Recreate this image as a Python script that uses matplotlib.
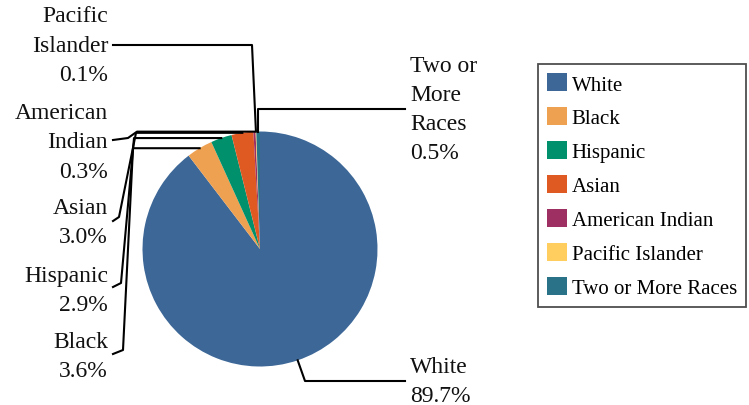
import numpy as np
import matplotlib
matplotlib.use("Agg")
import matplotlib.pyplot as plt
import matplotlib.patches as mpatches

# data
categories = ["White", "Black", "Hispanic", "Asian", "American Indian",
              "Pacific Islander", "Two or More Races"]
label_names = ["White", "Black", "Hispanic", "Asian", "American\nIndian",
               "Pacific\nIslander", "Two or\nMore\nRaces"]
shares = [89.7, 3.6, 2.9, 3.0, 0.3, 0.1, 0.5]
colors = ["#3C6797", "#EFA152", "#00916C", "#DF5A22", "#9E2F62",
          "#FFCE5E", "#2A7287"]

W, H = 749, 406
CX, CY, R = 260, 250, 117.5

# label layout in pixel coords (y downwards): x, y, alignment
text_pos = [(410, 382, "left"), (108, 357, "right"), (108, 291, "right"),
            (108, 223, "right"), (108, 143, "right"), (108, 46, "right"),
            (410, 110, "left")]
# leader elbows in pixels; None -> take from the wedge anchor
leader_pts = [
    [(305, 382), (405, 382)],
    [(133, None), (123, 351), (113, 355)],
    [(134, None), (121, 284), (113, 288)],
    [(136, None), (119, 218), (113, 222)],
    [(137, None), (128, 139), (113, 141)],
    [(252, 46), (113, 46)],
    [(None, 110), (405, 110)],
]

plt.rcParams["font.family"] = ["Liberation Serif", "DejaVu Serif"]

fig = plt.figure(figsize=(W / 100, H / 100), dpi=100)
ax = fig.add_axes([0, 0, 1, 1])

wedges, _ = ax.pie(shares, colors=colors, startangle=90, counterclock=False,
                   center=(CX, H - CY), radius=R,
                   wedgeprops=dict(linewidth=0))
ax.set_xlim(0, W)
ax.set_ylim(0, H)
ax.set_aspect("equal")
ax.axis("off")

for w, name, share, (tx, ty, ha), pts in zip(wedges, label_names, shares,
                                              text_pos, leader_pts):
    mid = np.deg2rad((w.theta1 + w.theta2) / 2)
    ax_x = CX + R * np.cos(mid)
    ax_y = (H - CY) + R * np.sin(mid)
    xs, ys = [ax_x], [ax_y]
    for px, py in pts:
        xs.append(ax_x if px is None else px)
        ys.append(ax_y if py is None else H - py)
    ax.plot(xs, ys, color="black", lw=1.5, solid_joinstyle="round")
    ax.text(tx, H - ty, f"{name}\n{share:.1f}%", ha=ha, va="center",
            multialignment=ha, fontsize=17, linespacing=1.52, color="#111111")

handles = [mpatches.Patch(facecolor=c, edgecolor="none", label=l)
           for c, l in zip(colors, categories)]
leg = fig.legend(handles=handles, loc="upper left",
                 bbox_to_anchor=(538 / W, 1 - 65 / H), borderaxespad=0,
                 fontsize=15, frameon=True, fancybox=False,
                 handlelength=0.96, handleheight=0.96, handletextpad=0.2,
                 labelspacing=0.61, borderpad=0.45)
leg.get_frame().set_edgecolor("#222222")
leg.get_frame().set_linewidth(1.3)

fig.savefig("out.png", dpi=100, facecolor="white")
